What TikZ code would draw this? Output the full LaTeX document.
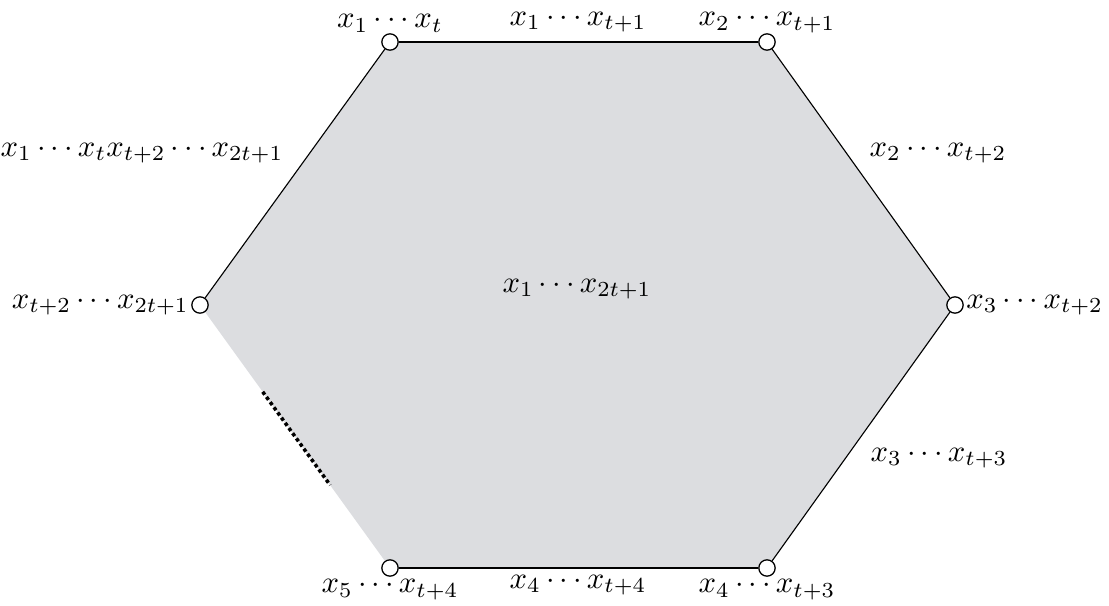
\documentclass[tikz,border=0pt]{standalone}
\usepackage{tikz}
\usetikzlibrary{positioning, calc, backgrounds}
\definecolor{hexgray}{RGB}{220,221,224}
\tikzset{
  vtx/.style={circle, draw=black, fill=white, inner sep=0pt, minimum size=0.18cm},
  edgeline/.style={draw=black, line width=0.35pt},
  dotline/.style={line width=1.1pt, dash pattern=on 1.1pt off 0.9pt},
  lbl/.style={inner sep=0pt, scale=0.96}
}
\begin{document}
\begin{tikzpicture}[x=0.011cm, y=-0.011cm, node distance=0.02cm]
  \useasboundingbox (0,0) rectangle (1109,605);

  % Vertices
  \node[vtx] (a) at (390,42) {};
  \node[vtx] (b) at (767,42) {};
  \node[vtx] (c) at (955,305) {};
  \node[vtx] (d) at (767,568) {};
  \node[vtx] (e) at (390,568) {};
  \node[vtx] (f) at (200,305) {};

  % Face
  \begin{pgfonlayer}{background}
    \fill[hexgray] (a.center) -- (b.center) -- (c.center) -- (d.center)
      -- (e.center) -- (f.center) -- cycle;
  \end{pgfonlayer}

  % Edges
  \draw[edgeline] (a) -- (b);
  \draw[edgeline] (b) -- (c);
  \draw[edgeline] (c) -- (d);
  \draw[edgeline] (d) -- (e);
  \draw[edgeline] (f) -- (a);
  \draw[dotline] ($(f.center)!0.33!(e.center)$) -- ($(f.center)!0.685!(e.center)$);

  % Vertex labels
  \node[lbl, above=0cm of a] (la) {$x_1\cdots x_t$};
  \node[lbl, above=0cm of b] (lb) {$x_2\cdots x_{t+1}$};
  \node[lbl, right=of c] (lc) {$x_3\cdots x_{t+2}$};
  \node[lbl, below=of d] (ld) {$x_4\cdots x_{t+3}$};
  \node[lbl, below=of e] (le) {$x_5\cdots x_{t+4}$};
  \node[lbl, left=of f] (lf) {$x_{t+2}\cdots x_{2t+1}$};

  % Edge labels
  \node[lbl] (lab) at (578,22) {$x_1\cdots x_{t+1}$};
  \node[lbl] (lbc) at (938,153) {$x_2\cdots x_{t+2}$};
  \node[lbl] (lcd) at (939,458) {$x_3\cdots x_{t+3}$};
  \node[lbl] (lde) at (578,585) {$x_4\cdots x_{t+4}$};
  \node[lbl] (lfa) at (142,153) {$x_1\cdots x_tx_{t+2}\cdots x_{2t+1}$};

  % Face label
  \node[lbl] (face) at (577,289) {$x_1\cdots x_{2t+1}$};
\end{tikzpicture}
\end{document}
